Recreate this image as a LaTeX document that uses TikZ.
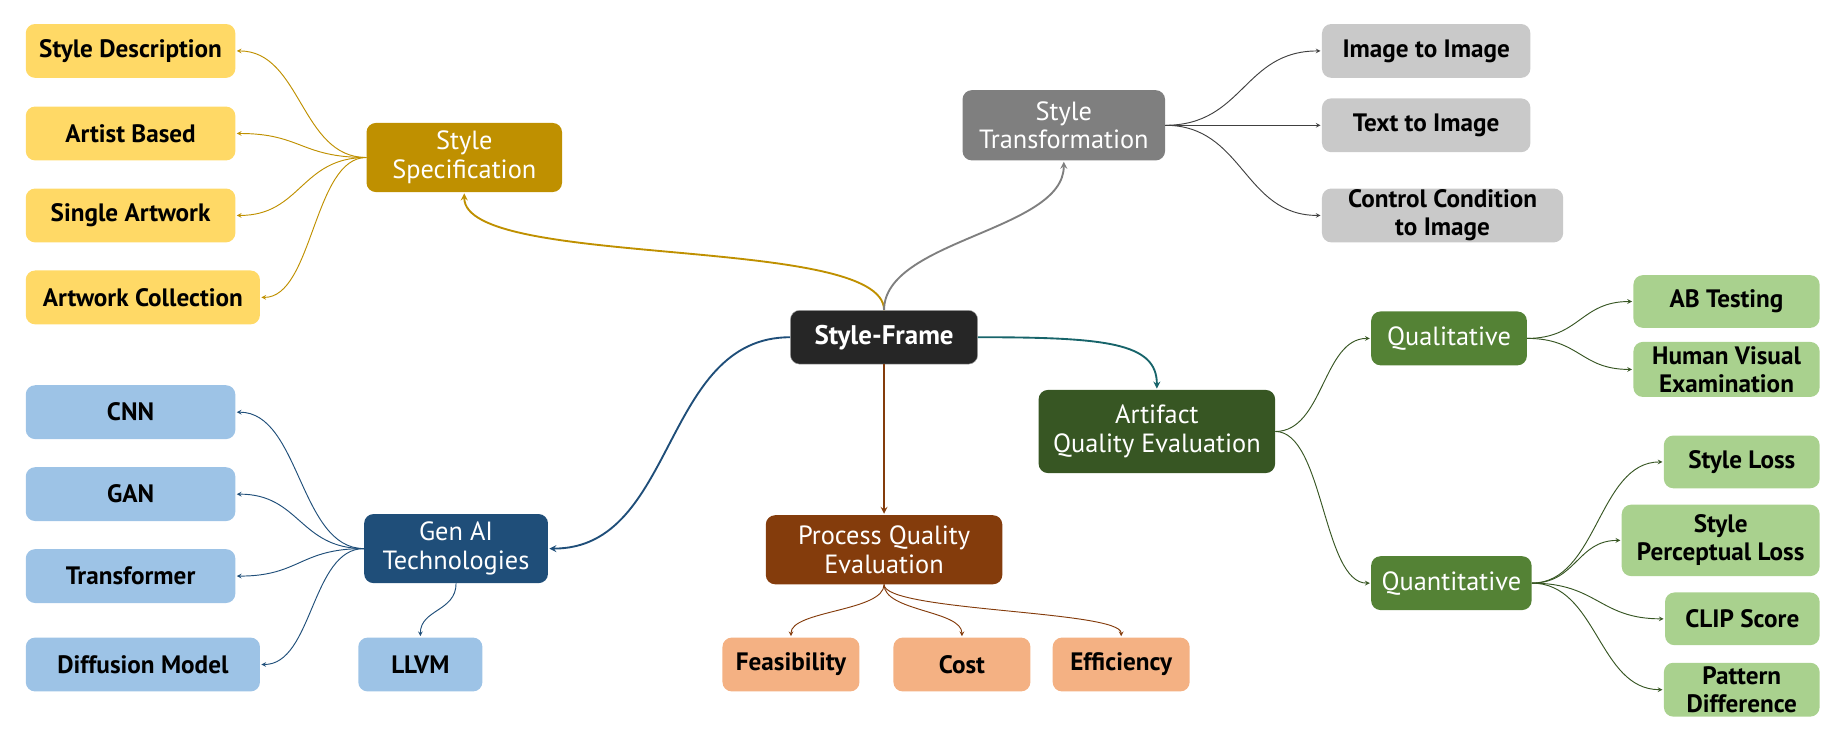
\documentclass[tikz,border=0pt]{standalone}
\usepackage{fontspec}
\setmainfont{PT Sans}
\usetikzlibrary{arrows.meta}

\definecolor{specDark}{HTML}{BF9000}
\definecolor{specLight}{HTML}{FFD966}
\definecolor{transDark}{HTML}{7F7F7F}
\definecolor{transLight}{HTML}{C9C9C9}
\definecolor{transLine}{HTML}{404040}
\definecolor{genDark}{HTML}{1F4E79}
\definecolor{genLight}{HTML}{9DC3E6}
\definecolor{procDark}{HTML}{843C0C}
\definecolor{procLight}{HTML}{F4B183}
\definecolor{artDark}{HTML}{375623}
\definecolor{artMid}{HTML}{548235}
\definecolor{artLight}{HTML}{A9D18E}
\definecolor{rootDark}{HTML}{262626}
\definecolor{tealLine}{HTML}{17646A}

\begin{document}
\begin{tikzpicture}[
    x=1pt, y=-1pt,
    box/.style={rectangle, rounded corners=8pt, align=center, inner sep=0pt, font=\fontsize{22.5}{24.5}\selectfont},
    hub/.style={box, fill=#1, text=white, minimum height=59pt},
    leaf/.style={box, fill=#1, text=black, minimum height=46pt, font=\fontsize{21.5}{24}\selectfont\bfseries},
    link/.style={->, >=stealth, line width=0.8pt, draw=#1, shorten >=1pt},
    trunk/.style={->, >=stealth, line width=1.6pt, draw=#1, shorten >=1pt}
]
\useasboundingbox (0,0) rectangle (1568,627);

\node (frame) [box, fill=rootDark, draw=gray!70, text=white, minimum width=160pt, minimum height=46pt, font=\fontsize{23}{24}\selectfont\bfseries] at (755,288) {Style-Frame};

% style specification
\node (spec) [hub=specDark, minimum width=167pt] at (396.5,134.5) {Style\\Specification};
\node (desc) [leaf=specLight, minimum width=179pt] at (111.5,43.5) {Style Description};
\node (artist) [leaf=specLight, minimum width=179pt] at (111.5,114) {Artist Based};
\node (single) [leaf=specLight, minimum width=179pt] at (111.5,184) {Single Artwork};
\node (collect) [leaf=specLight, minimum width=200pt] at (122,254) {Artwork Collection};

% style transformation
\node (trans) [hub=transDark, minimum width=173pt, minimum height=60pt] at (908.5,107) {Style\\Transformation};
\node (imgimg) [leaf=transLight, minimum width=178pt] at (1218,43.5) {Image to Image};
\node (txtimg) [leaf=transLight, minimum width=178pt] at (1218,107) {Text to Image};
\node (ctrlimg) [leaf=transLight, minimum width=206pt] at (1232,184) {Control Condition\\to Image};

% gen ai
\node (gen) [hub=genDark, minimum width=157pt] at (389.5,468.5) {Gen AI\\Technologies};
\node (cnn) [leaf=genLight, minimum width=179pt] at (111.5,352) {CNN};
\node (gan) [leaf=genLight, minimum width=179pt] at (111.5,422) {GAN};
\node (transf) [leaf=genLight, minimum width=179pt] at (111.5,492) {Transformer};
\node (diff) [leaf=genLight, minimum width=200pt] at (122,567.5) {Diffusion Model};
\node (llvm) [leaf=genLight, minimum width=106pt] at (359,567.5) {LLVM};

% process quality
\node (proc) [hub=procDark, minimum width=202pt] at (755,469.5) {Process Quality\\Evaluation};
\node (feas) [leaf=procLight, minimum width=117pt] at (675.5,567.5) {Feasibility};
\node (cost) [leaf=procLight, minimum width=117pt] at (821.5,567.5) {Cost};
\node (effic) [leaf=procLight, minimum width=117pt] at (957.5,567.5) {Efficiency};

% artifact quality
\node (art) [hub=artDark, minimum width=202pt, minimum height=71pt] at (988,368.5) {Artifact\\Quality Evaluation};
\node (qual) [hub=artMid, minimum width=133pt, minimum height=46pt] at (1237.5,289) {Qualitative};
\node (quant) [hub=artMid, minimum width=137pt, minimum height=46pt] at (1239.5,498) {Quantitative};
\node (abtest) [leaf=artLight, minimum width=159pt, minimum height=45pt] at (1474.5,257.5) {AB Testing};
\node (human) [leaf=artLight, minimum width=159pt, minimum height=47pt] at (1474.5,315.5) {Human Visual\\Examination};
\node (sloss) [leaf=artLight, minimum width=133pt, minimum height=45pt] at (1487.5,394.5) {Style Loss};
\node (ploss) [leaf=artLight, minimum width=169pt, minimum height=61pt] at (1469.5,461.5) {Style\\Perceptual Loss};
\node (clip) [leaf=artLight, minimum width=132pt, minimum height=45pt] at (1488,528.5) {CLIP Score};
\node (pattern) [leaf=artLight, minimum width=133pt, minimum height=46pt] at (1487.5,589) {Pattern\\Difference};

% trunks from the root
\draw [trunk=specDark] (frame.north) .. controls +(0,-65) and +(0,66) .. (spec.south);
\draw [trunk=transDark] (frame.north) .. controls +(0,-60) and +(0,60) .. (trans.south);
\draw [trunk=genDark] (frame.west) .. controls +(-110,0) and +(110,0) .. (gen.east);
\draw [trunk=tealLine] (frame.east) .. controls +(110,0) and +(0,-40) .. (art.north);
\draw [trunk=procDark] (frame.south) -- (proc.north);

% branches
\draw [link=specDark] (spec.west) .. controls +(-56,0) and +(56,0) .. (desc.east);
\draw [link=specDark] (spec.west) .. controls +(-56,0) and +(56,0) .. (artist.east);
\draw [link=specDark] (spec.west) .. controls +(-56,0) and +(56,0) .. (single.east);
\draw [link=specDark] (spec.west) .. controls +(-45,0) and +(45,0) .. (collect.east);

\draw [link=transLine] (trans.east) .. controls +(67,0) and +(-67,0) .. (imgimg.west);
\draw [link=transLine] (trans.east) -- (txtimg.west);
\draw [link=transLine] (trans.east) .. controls +(67,0) and +(-67,0) .. (ctrlimg.west);

\draw [link=genDark] (gen.west) .. controls +(-55,0) and +(55,0) .. (cnn.east);
\draw [link=genDark] (gen.west) .. controls +(-55,0) and +(55,0) .. (gan.east);
\draw [link=genDark] (gen.west) .. controls +(-55,0) and +(55,0) .. (transf.east);
\draw [link=genDark] (gen.west) .. controls +(-45,0) and +(45,0) .. (diff.east);
\draw [link=genDark] (gen.south) .. controls +(0,24) and +(0,-24) .. (llvm.north);

\draw [link=procDark] (proc.south) .. controls +(0,23) and +(0,-23) .. (feas.north);
\draw [link=procDark] (proc.south) .. controls +(0,23) and +(0,-23) .. (cost.north);
\draw [link=procDark] (proc.south) .. controls +(0,23) and +(0,-23) .. (effic.north);

\draw [link=artDark] (art.east) .. controls +(41,0) and +(-41,0) .. (qual.west);
\draw [link=artDark] (art.east) .. controls +(41,0) and +(-41,0) .. (quant.west);
\draw [link=artDark] (qual.east) .. controls +(45,0) and +(-45,0) .. (abtest.west);
\draw [link=artDark] (qual.east) .. controls +(45,0) and +(-45,0) .. (human.west);
\draw [link=artDark] (quant.east) .. controls +(56,0) and +(-56,0) .. (sloss.west);
\draw [link=artDark] (quant.east) .. controls +(38,0) and +(-38,0) .. (ploss.west);
\draw [link=artDark] (quant.east) .. controls +(56,0) and +(-56,0) .. (clip.west);
\draw [link=artDark] (quant.east) .. controls +(56,0) and +(-56,0) .. (pattern.west);

\end{tikzpicture}
\end{document}
